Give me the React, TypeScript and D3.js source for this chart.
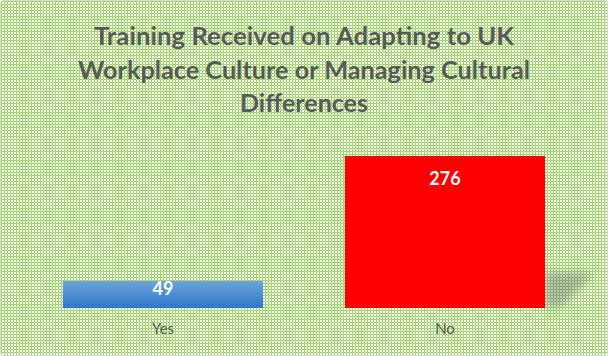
import React from "react";
import * as d3 from "d3";

const categories = ["Yes", "No"];
const values = [49, 276];
const titleLines = [
  "Training Received on Adapting to UK",
  "Workplace Culture or Managing Cultural",
  "Differences",
];

const W = 608;
const H = 356;

const TILE = [
  "WGWWGW",
  "GLGGLG",
  "WGWWGW",
  "WGWWGW",
  "GLGGLG",
  "WGWWGW",
];

export default function App() {
  const x = d3.scaleBand<string>().domain(categories).range([22, 586]).paddingInner(0.29).paddingOuter(0.145);
  const y = d3.scaleLinear().domain([0, 276]).range([308, 156]);

  const titleWidths = [420, 452, 128];
  const titleBaselines = [45, 79, 112];

  const colorOf: Record<string, string> = { G: "#93d157", L: "#c6e5a6" };
  const pixels: { i: number; j: number; c: string }[] = [];
  TILE.forEach((row, j) =>
    row.split("").forEach((ch, i) => {
      if (ch !== "W") pixels.push({ i, j, c: colorOf[ch] });
    })
  );

  return (
    <svg width={W} height={H} style={{ position: "absolute", left: 0, top: 0 }}>
      <defs>
        <pattern id="bg" width={6} height={6} patternUnits="userSpaceOnUse">
          <rect width={6} height={6} fill="#ffffff" />
          {pixels.map((p, k) => (
            <rect key={k} x={p.i} y={p.j} width={1} height={1} fill={p.c} />
          ))}
        </pattern>
        <linearGradient id="blueGrad" x1="0" y1="0" x2="0" y2="1">
          <stop offset="0" stopColor="#6ba3dc" />
          <stop offset="1" stopColor="#2f77c8" />
        </linearGradient>
        <filter id="blur" x="-50%" y="-50%" width="200%" height="200%">
          <feGaussianBlur stdDeviation="5" />
        </filter>
      </defs>
      <rect x={0.5} y={0.5} width={W - 1} height={H - 1} fill="url(#bg)" stroke="#d9d9d9" rx={3} />
      {titleLines.map((t, i) => (
        <text
          key={i}
          x={304}
          y={titleBaselines[i]}
          textAnchor="middle"
          fontFamily="Lato, 'Open Sans', sans-serif"
          fontWeight="bold"
          fontSize={25}
          fill="#595959"
          textLength={titleWidths[i]}
          lengthAdjust="spacingAndGlyphs"
        >
          {t}
        </text>
      ))}
      {categories.map((c, i) => {
        const bx = x(c)!;
        const bw = x.bandwidth();
        const top = y(values[i]);
        const h = y(0) - top;
        const isNo = i === 1;
        return (
          <g key={c}>
            {isNo && (
              <polygon
                points={`${bx + bw},${y(0) - 36} ${bx + bw + 50},${y(0) - 36} ${bx + bw + 16},${y(0)} ${bx + bw},${y(0)}`}
                fill="#666"
                opacity={0.4}
                filter="url(#blur)"
              />
            )}
            <rect x={bx} y={top} width={bw} height={h} fill={isNo ? "#ff0000" : "url(#blueGrad)"} />
            <text
              x={bx + bw / 2}
              y={top + (h > 60 ? 29 : 14)}
              textAnchor="middle"
              fontFamily="Lato, 'Open Sans', sans-serif"
              fontWeight="bold"
              fontSize={18}
              fill="#ffffff"
            >
              {values[i]}
            </text>
            <text
              x={bx + bw / 2}
              y={334}
              textAnchor="middle"
              fontFamily="Lato, 'Open Sans', sans-serif"
              fontSize={15}
              fill="#595959"
            >
              {c}
            </text>
          </g>
        );
      })}
    </svg>
  );
}
